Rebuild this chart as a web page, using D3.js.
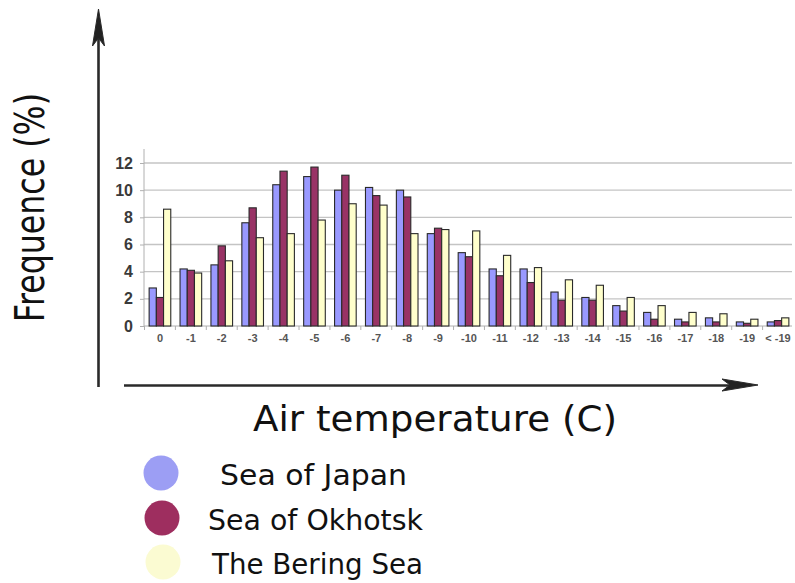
<!DOCTYPE html>
<html>
<head>
<meta charset="utf-8">
<script src="https://cdn.jsdelivr.net/npm/d3@7"></script>
<style>
  body { margin: 0; background: #fff; }
  svg { display: block; }
</style>
</head>
<body>
<svg id="chart" width="795" height="583"></svg>
<script>
// categories (air temperature, C) and frequences (%) per sea
const categories = ["0","-1","-2","-3","-4","-5","-6","-7","-8","-9","-10",
                    "-11","-12","-13","-14","-15","-16","-17","-18","-19","< -19"];
const japan   = [2.8, 4.2, 4.5, 7.6, 10.4, 11.0, 10.0, 10.2, 10.0, 6.8, 5.4,
                 4.2, 4.2, 2.5, 2.1, 1.5, 1.0, 0.5, 0.6, 0.3, 0.3];
const okhotsk = [2.1, 4.1, 5.9, 8.7, 11.4, 11.7, 11.1, 9.6, 9.5, 7.2, 5.1,
                 3.7, 3.2, 1.9, 1.9, 1.1, 0.5, 0.3, 0.3, 0.2, 0.4];
const bering  = [8.6, 3.9, 4.8, 6.5, 6.8, 7.8, 9.0, 8.9, 6.8, 7.1, 7.0,
                 5.2, 4.3, 3.4, 3.0, 2.1, 1.5, 1.0, 0.9, 0.5, 0.6];
const seriesNames = ["Sea of Japan", "Sea of Okhotsk", "The Bering Sea"];
const yTicks = [0, 2, 4, 6, 8, 10, 12];

const barColors = ["#9999ff", "#993366", "#ffffcc"];
const legendColors = ["#9c9ef4", "#9e2f5f", "#fbfbd2"];

const svg = d3.select("#chart");

// scales
const x = d3.scaleBand()
    .domain(categories)
    .range([144.5, 793.5])
    .paddingInner(0.3)
    .paddingOuter(0.15);

const xSub = d3.scaleBand()
    .domain(d3.range(3))
    .range([0, x.bandwidth()]);

const y = d3.scaleLinear()
    .domain([0, 12])
    .range([326, 163]);

// grid lines
svg.append("g")
    .selectAll("line")
    .data(yTicks.filter(d => d > 0))
    .join("line")
    .attr("x1", 144).attr("x2", 792)
    .attr("y1", d => y(d)).attr("y2", d => y(d))
    .attr("stroke", "#c4c4c4")
    .attr("stroke-width", 1.4);

// y axis
const yAxis = svg.append("g")
    .attr("transform", "translate(144,0)")
    .call(d3.axisLeft(y).tickValues(yTicks).tickSize(4).tickPadding(7));
yAxis.select(".domain").attr("stroke", "#b0b0b0").attr("d", "M0,149V326");
yAxis.selectAll(".tick line").attr("stroke", "#b0b0b0");
yAxis.selectAll("text")
    .attr("font-family", "Liberation Sans, Arial, sans-serif")
    .attr("font-size", 16)
    .attr("font-weight", "bold")
    .attr("fill", "#3a3a3a");

// x axis
const xAxis = svg.append("g")
    .attr("transform", "translate(0,326)")
    .call(d3.axisBottom(x).tickSize(0).tickPadding(8));
xAxis.select(".domain").attr("stroke", "#b0b0b0").attr("d", "M144,0H792");
xAxis.selectAll("text")
    .attr("font-family", "Liberation Sans, Arial, sans-serif")
    .attr("font-size", 11)
    .attr("font-weight", "bold")
    .attr("fill", "#555");
// small separators between categories
xAxis.append("g")
    .selectAll("line")
    .data(categories)
    .join("line")
    .attr("x1", d => x(d) - x.step() * 0.15)
    .attr("x2", d => x(d) - x.step() * 0.15)
    .attr("y1", 0).attr("y2", 4)
    .attr("stroke", "#b0b0b0");

// bars
const rows = categories.map((c, i) => ({cat: c, vals: [japan[i], okhotsk[i], bering[i]]}));
svg.append("g")
    .selectAll("g")
    .data(rows)
    .join("g")
    .attr("transform", d => `translate(${x(d.cat)},0)`)
    .selectAll("rect")
    .data(d => d.vals.map((v, k) => ({k, v})))
    .join("rect")
    .attr("x", d => xSub(d.k))
    .attr("width", xSub.bandwidth())
    .attr("y", d => y(d.v))
    .attr("height", d => y(0) - y(d.v))
    .attr("fill", d => barColors[d.k])
    .attr("stroke", "#2a2a2a")
    .attr("stroke-width", 1.1);

// big hand-drawn style axes arrows
const arrows = svg.append("g").attr("fill", "#222").attr("stroke", "#2a2a2a");
arrows.append("line")
    .attr("x1", 98.5).attr("x2", 98.5).attr("y1", 387).attr("y2", 30)
    .attr("stroke-width", 2.6);
arrows.append("path")
    .attr("d", "M98.5,9 L104.5,46 L98.5,38 L92.5,46 Z")
    .attr("stroke-width", 1);
arrows.append("line")
    .attr("x1", 124).attr("x2", 735).attr("y1", 385.5).attr("y2", 385.5)
    .attr("stroke-width", 2.6);
arrows.append("path")
    .attr("d", "M758,385 L722,379 L730,385 L722,391 Z")
    .attr("stroke-width", 1);

// axis titles
svg.append("text")
    .attr("transform", "translate(44,322) rotate(-90)")
    .attr("font-family", "DejaVu Sans, sans-serif")
    .attr("font-size", 40)
    .attr("textLength", 229)
    .attr("lengthAdjust", "spacingAndGlyphs")
    .attr("fill", "#111")
    .text("Frequence (%)");

svg.append("text")
    .attr("x", 253).attr("y", 431)
    .attr("font-family", "DejaVu Sans, sans-serif")
    .attr("font-size", 36)
    .attr("textLength", 364)
    .attr("lengthAdjust", "spacingAndGlyphs")
    .attr("fill", "#111")
    .text("Air temperature (C)");

// legend
const defs = svg.append("defs");
defs.append("filter").attr("id", "soft")
    .append("feGaussianBlur").attr("stdDeviation", 0.6);

const legendY = [473, 518, 562];
const legendX = [220, 208, 212];
const legendW = [187, 215, 211];
const legend = svg.append("g");
legend.selectAll("circle")
    .data(seriesNames)
    .join("circle")
    .attr("cx", (d, i) => 161 + i)
    .attr("cy", (d, i) => legendY[i])
    .attr("r", 17.5)
    .attr("fill", (d, i) => legendColors[i])
    .attr("filter", "url(#soft)");
legend.selectAll("text")
    .data(seriesNames)
    .join("text")
    .attr("x", (d, i) => legendX[i])
    .attr("y", (d, i) => legendY[i] + 12)
    .attr("font-family", "DejaVu Sans, sans-serif")
    .attr("font-size", 29)
    .attr("textLength", (d, i) => legendW[i])
    .attr("lengthAdjust", "spacingAndGlyphs")
    .attr("fill", "#111")
    .text(d => d);
</script>
</body>
</html>
